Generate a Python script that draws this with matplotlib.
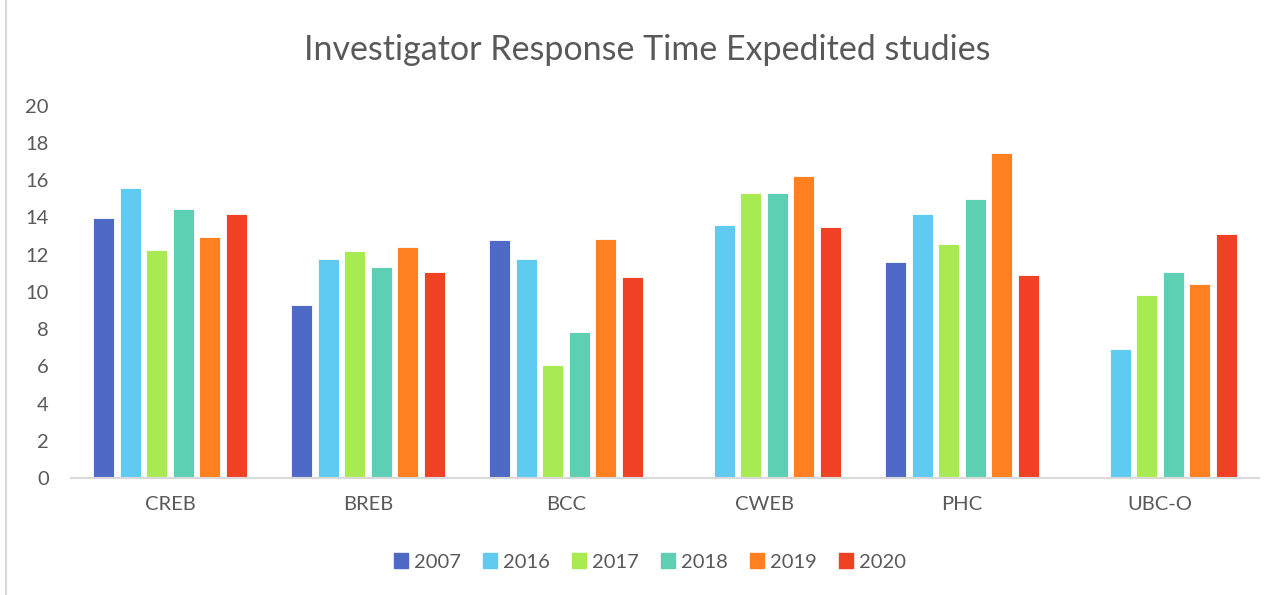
import numpy as np
import matplotlib.pyplot as plt
from matplotlib.lines import Line2D

plt.rcParams['font.family'] = ['Lato', 'DejaVu Sans']

categories = ["CREB", "BREB", "BCC", "CWEB", "PHC", "UBC-O"]
years = ["2007", "2016", "2017", "2018", "2019", "2020"]
v2007 = [13.95, 9.32, 12.81, 0, 11.6, 0]
v2016 = [15.6, 11.77, 11.79, 13.6, 14.16, 6.94]
v2017 = [12.26, 12.2, 6.06, 15.3, 12.58, 9.82]
v2018 = [14.46, 11.33, 7.83, 15.3, 14.98, 11.09]
v2019 = [12.94, 12.4, 12.83, 16.2, 17.47, 10.41]
v2020 = [14.19, 11.09, 10.82, 13.48, 10.88, 13.1]
series = [v2007, v2016, v2017, v2018, v2019, v2020]
colors = ["#4F69C6", "#5FCBF1", "#A8EA52", "#5DCFB2", "#FF8021", "#F04124"]

fig = plt.figure(figsize=(12.87, 5.95), dpi=100)
ax = fig.add_axes([71/1287, 1-478/595, 1188/1287, (478-105.7)/595])

x = np.arange(len(categories))
step = 0.134
width = 0.108
for i, (vals, c, y) in enumerate(zip(series, colors, years)):
    ax.bar(x + (i - 2.5)*step, vals, width, color=c, label=y,
           edgecolor="white", linewidth=0.6, zorder=2)

ax.set_xlim(-0.5, len(categories) - 0.5)
ax.set_ylim(0, 20)
ax.set_yticks(range(0, 21, 2))
ax.set_xticks(x)
ax.set_xticklabels(categories)
for s in ["top", "right", "left"]:
    ax.spines[s].set_visible(False)
ax.spines["bottom"].set_color("#D9D9D9")
ax.spines["bottom"].set_linewidth(1.5)
ax.tick_params(axis="both", length=0, colors="#595959", labelsize=14.5)
ax.tick_params(axis="y", pad=16)
ax.tick_params(axis="x", pad=13)

fig.text(0.503, 1-50/595, "Investigator Response Time Expedited studies",
         ha="center", va="center", fontsize=24.5, color="#595959")

handles = [plt.Rectangle((0, 0), 1, 1, color=c) for c in colors]
fig.legend(handles, years, loc="center", bbox_to_anchor=(0.505, 1-562/595),
           ncol=6, frameon=False, fontsize=14.5, labelcolor="#595959",
           handlelength=0.7, handleheight=0.7, handletextpad=0.3,
           columnspacing=1.1)

fig.add_artist(Line2D([6/1287, 6/1287], [0, 1], color="#D9D9D9", lw=1.5))

plt.savefig("out.png")
